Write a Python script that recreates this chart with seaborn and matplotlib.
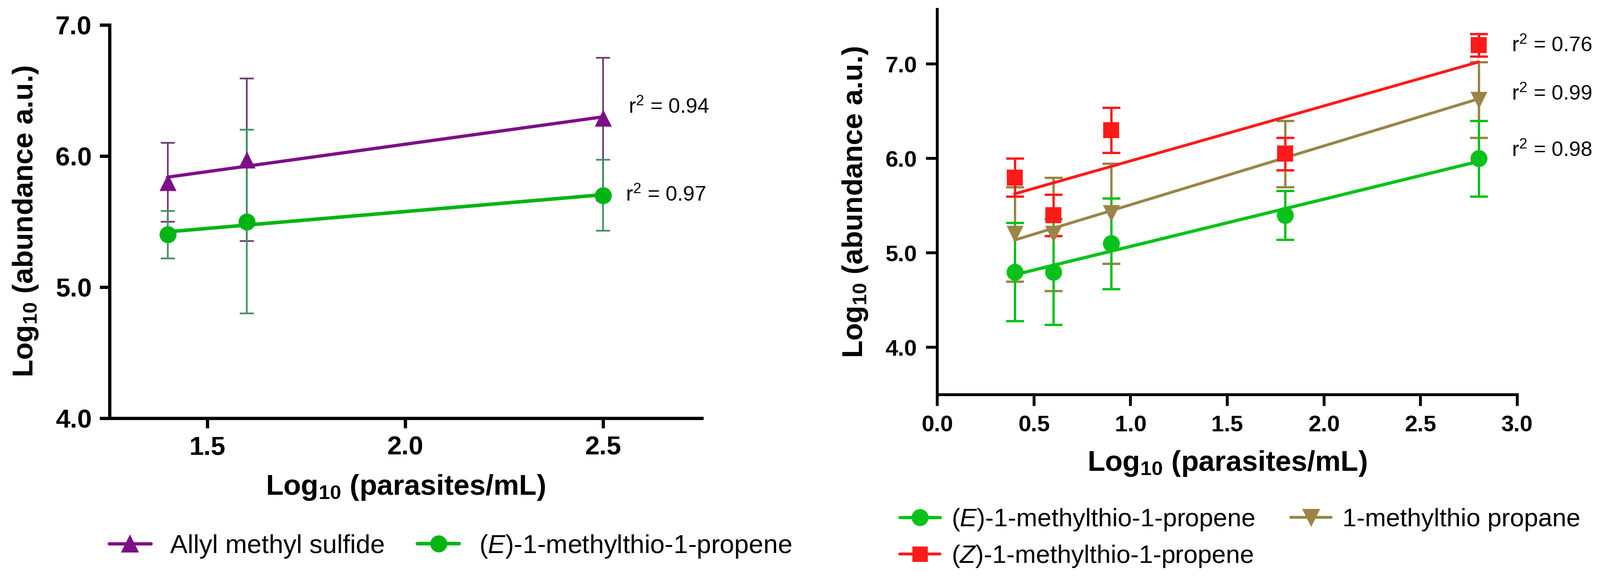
import seaborn as sns
import matplotlib.pyplot as plt
from matplotlib.lines import Line2D

# left panel data
left_x = [1.4, 1.6, 2.5]
allyl_y = [5.8, 5.97, 6.29]
allyl_err_lo = [0.3, 0.62, 0.63]
allyl_err_hi = [0.3, 0.62, 0.46]
e_left_y = [5.4, 5.5, 5.7]
e_left_err = [0.18, 0.7, 0.27]
left_r2 = ['0.94', '0.97']
left_xticks = [1.5, 2.0, 2.5]
left_yticks = [4.0, 5.0, 6.0, 7.0]

# right panel data
right_x = [0.4, 0.6, 0.9, 1.8, 2.8]
e_right_y = [4.8, 4.8, 5.1, 5.4, 6.0]
e_right_err = [0.52, 0.56, 0.48, 0.26, 0.4]
z_right_y = [5.8, 5.4, 6.3, 6.05, 7.2]
z_right_err = [0.2, 0.22, 0.24, 0.17, 0.12]
prop_y = [5.2, 5.2, 5.42, 6.05, 6.62]
prop_err = [0.5, 0.6, 0.53, 0.35, 0.4]
right_r2 = ['0.76', '0.99', '0.98']
right_xticks = [0.0, 0.5, 1.0, 1.5, 2.0, 2.5, 3.0]
right_yticks = [4.0, 5.0, 6.0, 7.0]

names_left = ['Allyl methyl sulfide', '($\\it{E}$)-1-methylthio-1-propene']
names_right = ['($\\it{E}$)-1-methylthio-1-propene', '($\\it{Z}$)-1-methylthio-1-propene',
               '1-methylthio propane']

PURPLE = '#7d0f86'
PURPLE_ERR = '#6e3a70'
GREEN_L = '#00b414'
GREEN_ERR = '#3f9160'
GREEN = '#08c21c'
RED = '#ff1a1a'
BROWN = '#9a8546'

sns.set_style('ticks')
plt.rcParams['font.family'] = ['Liberation Sans', 'DejaVu Sans']
plt.rcParams['mathtext.fontset'] = 'custom'
plt.rcParams['mathtext.rm'] = 'Liberation Sans'
plt.rcParams['mathtext.it'] = 'Liberation Sans:italic'
plt.rcParams['mathtext.bf'] = 'Liberation Sans:bold'
for k in ['text.color', 'axes.labelcolor', 'xtick.color', 'ytick.color', 'axes.edgecolor']:
    plt.rcParams[k] = 'black'

fig = plt.figure(figsize=(17.02, 6.14), dpi=200)
ax1 = fig.add_axes([0.0684, 0.2752, 0.3702, 0.6816])
ax2 = fig.add_axes([0.5858, 0.3160, 0.3625, 0.6678])


def series(ax, x, y, err, color, errcolor, marker, ms, lw, cap, elw):
    sns.regplot(x=x, y=y, ax=ax, scatter=False, ci=None, truncate=True,
                color=color, line_kws=dict(lw=lw, zorder=3))
    ax.errorbar(x, y, yerr=err, fmt='none', ecolor=errcolor, elinewidth=elw,
                capsize=cap, capthick=elw, zorder=2)
    sns.scatterplot(x=x, y=y, ax=ax, marker=marker, s=ms ** 2, color=color,
                    edgecolor=color, linewidth=0, zorder=4, legend=False)


# ---- left panel
series(ax1, left_x, allyl_y, [allyl_err_lo, allyl_err_hi], PURPLE, PURPLE_ERR, '^', 13, 2.5, 5.5, 1.3)
series(ax1, left_x, e_left_y, e_left_err, GREEN_L, GREEN_ERR, 'o', 13, 2.7, 5.5, 1.3)
ax1.set_xlim(1.253, 2.75)
ax1.set_ylim(4.0, 7.0)
ax1.set_xticks(left_xticks)
ax1.set_yticks(left_yticks)
ax1.set_xticklabels([f'{v:.1f}' for v in left_xticks])
ax1.set_yticklabels([f'{v:.1f}' for v in left_yticks])
ax1.tick_params(width=2.5, length=7.5, labelsize=20, pad=6)
for lab in ax1.get_xticklabels() + ax1.get_yticklabels():
    lab.set_fontweight('bold')
ax1.set_xlabel('Log$_\\mathbf{10}$ (parasites/mL)', fontsize=22, fontweight='bold', labelpad=10)
ax1.set_ylabel('Log$_\\mathbf{10}$ (abundance a.u.)', fontsize=22, fontweight='bold', labelpad=12)
ax1.text(2.565, 6.37, 'r$^2$ = ' + left_r2[0], fontsize=16, va='center')
ax1.text(2.558, 5.70, 'r$^2$ = ' + left_r2[1], fontsize=16, va='center')

# ---- right panel
series(ax2, right_x, prop_y, prop_err, BROWN, BROWN, 'v', 13, 2.2, 7, 1.8)
series(ax2, right_x, z_right_y, z_right_err, RED, RED, 's', 12, 2.2, 7, 1.8)
series(ax2, right_x, e_right_y, e_right_err, GREEN, GREEN, 'o', 13, 2.5, 7, 1.8)
ax2.set_xlim(0.0, 3.0)
ax2.set_ylim(3.5, 7.58)
ax2.set_xticks(right_xticks)
ax2.set_yticks(right_yticks)
ax2.set_xticklabels([f'{v:.1f}' for v in right_xticks])
ax2.set_yticklabels([f'{v:.1f}' for v in right_yticks])
ax2.tick_params(width=2.2, length=8.5, labelsize=17.5, pad=7)
for lab in ax2.get_xticklabels() + ax2.get_yticklabels():
    lab.set_fontweight('bold')
ax2.set_xlabel('Log$_\\mathbf{10}$ (parasites/mL)', fontsize=22, fontweight='bold', labelpad=10)
ax2.set_ylabel('Log$_\\mathbf{10}$ (abundance a.u.)', fontsize=22, fontweight='bold', labelpad=12)
for txt, yy in zip(right_r2, [7.19, 6.68, 6.08]):
    ax2.text(2.97, yy, 'r$^2$ = ' + txt, fontsize=16, va='center', clip_on=False)

for ax, w in [(ax1, 2.5), (ax2, 2.2)]:
    sns.despine(ax=ax)
    for s in ['left', 'bottom']:
        ax.spines[s].set_linewidth(w)
    ax.grid(False)

# ---- legends
h_left = [Line2D([], [], color=PURPLE, lw=2.5, marker='^', ms=12),
          Line2D([], [], color=GREEN_L, lw=2.7, marker='o', ms=12)]
fig.legend(h_left, names_left, loc='center', bbox_to_anchor=(0.2815, 0.053), ncol=2,
           frameon=False, fontsize=20, handlelength=1.6, handletextpad=0.75,
           columnspacing=1.25)

h_right = [Line2D([], [], color=GREEN, lw=2.5, marker='o', ms=12),
           Line2D([], [], color=RED, lw=2.2, marker='s', ms=11),
           Line2D([], [], color=BROWN, lw=2.2, marker='v', ms=12)]
fig.legend(h_right, names_right, loc='center', bbox_to_anchor=(0.775, 0.0676), ncol=2,
           frameon=False, fontsize=19.4, handlelength=1.6, handletextpad=0.45,
           columnspacing=1.4, labelspacing=0.45)

fig.savefig('out.png', dpi=200)
